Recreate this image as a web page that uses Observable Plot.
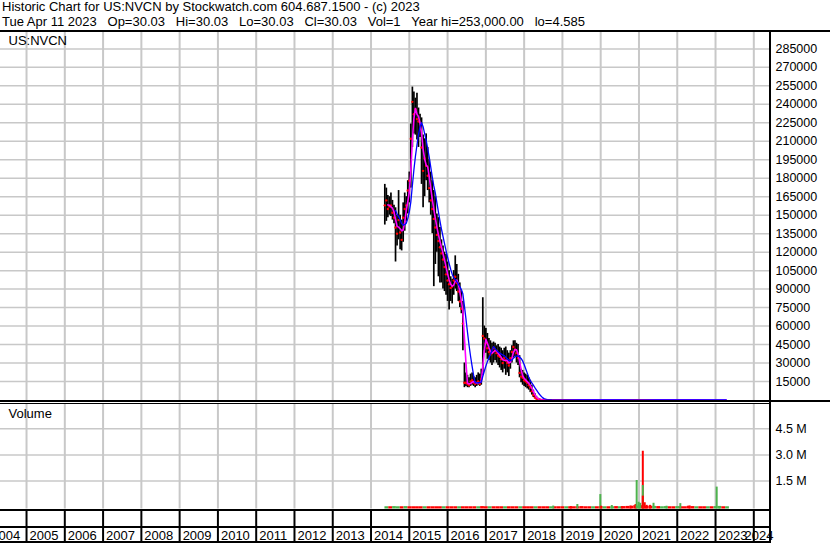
<!DOCTYPE html>
<html><head><meta charset="utf-8">
<script src="https://cdn.jsdelivr.net/npm/d3@7"></script>
<script src="https://cdn.jsdelivr.net/npm/@observablehq/plot@0.6"></script>
<style>
body{margin:0;background:#fff;}
#wrap{position:relative;width:830px;height:543px;overflow:hidden;background:#fff;font-family:"Liberation Sans",Arial,sans-serif;}
.hdr{position:absolute;left:2px;font-size:13px;line-height:15px;white-space:pre;color:#000;}
.ln{position:absolute;background:#000;}
</style></head><body>
<div id="wrap"></div>
<script>
// ---- text ----
const titleLine = "Historic Chart for US:NVCN by Stockwatch.com 604.687.1500 - (c) 2023";
const quoteLine = "Tue Apr 11 2023   Op=30.03   Hi=30.03   Lo=30.03   Cl=30.03   Vol=1   Year hi=253,000.00   lo=4.585";
const symbolLabel = "US:NVCN";
const volumeLabel = "Volume";

// ---- tick values ----
const yearTicks = [2004,2005,2006,2007,2008,2009,2010,2011,2012,2013,2014,2015,2016,2017,2018,2019,2020,2021,2022,2023,2024];
const priceTicksK = [15,30,45,60,75,90,105,120,135,150,165,180,195,210,225,240,255,270,285]; // thousands
const volTicksM = [1.5,3.0,4.5]; // millions

// ---- price bars: [decimal year, high, low, close] in thousands ----
const priceRows = [
[2014.36,175,142,158],[2014.40,172,145,162],[2014.44,166,148,155],[2014.48,165,150,157],
[2014.52,168,149,158],[2014.56,162,146,152],[2014.60,158,143,148],[2014.64,156,112,140],
[2014.68,150,125,135],[2014.72,170,130,146],[2014.76,150,122,136],[2014.80,146,121,130],
[2014.84,160,128,148],[2014.88,168,137,155],[2014.92,165,145,158],[2014.96,178,151,170],
[2015.00,185,160,178],[2015.04,224,172,212],[2015.08,254,205,242],[2015.12,250,216,232],
[2015.16,245,215,236],[2015.20,249,211,228],[2015.24,237,205,226],[2015.28,232,213,220],
[2015.32,229,175,205],[2015.36,215,156,186],[2015.40,212,165,196],[2015.44,216,178,190],
[2015.48,205,170,182],[2015.52,195,160,172],[2015.56,185,150,162],[2015.60,178,135,155],
[2015.64,170,92,147],[2015.68,165,110,140],[2015.72,151,120,134],[2015.76,148,100,129],
[2015.80,140,95,124],[2015.84,130,95,119],[2015.88,125,90,114],[2015.92,120,88,108],
[2015.96,118,85,102],[2016.00,112,80,97],[2016.04,105,73,94],[2016.08,100,80,91],
[2016.12,98,78,92],[2016.16,105,85,97],[2016.20,117,90,100],[2016.24,110,88,95],
[2016.28,102,80,88],[2016.32,95,75,80],[2016.36,88,70,74],[2016.40,80,40,62],
[2016.44,30,10,14],[2016.48,22,11,14],[2016.52,20,10,13],[2016.56,18,10,12],
[2016.60,21,11,15],[2016.64,22,12,16],[2016.68,19,11,14],[2016.72,18,10,13],
[2016.76,20,11,14],[2016.80,22,12,15],[2016.84,21,11,13],[2016.88,25,12,17],
[2016.92,83,20,52],[2016.96,60,40,50],[2017.00,58,38,46],[2017.04,54,33,42],
[2017.08,50,32,39],[2017.12,48,30,37],[2017.16,46,28,38],[2017.20,47,30,42],
[2017.24,46,32,40],[2017.28,44,30,38],[2017.32,45,28,36],[2017.36,43,26,35],
[2017.40,42,24,33],[2017.44,40,22,30],[2017.48,42,25,34],[2017.52,43,20,32],
[2017.56,40,22,30],[2017.60,38,19,28],[2017.64,40,25,34],[2017.68,44,30,39],
[2017.72,48,34,43],[2017.76,48,35,41],[2017.80,46,30,38],[2017.84,45,28,34],
[2017.88,36,18,22],[2017.92,25,14,19],[2017.96,24,12,18],[2018.00,22,11,16],
[2018.04,21,10,15],[2018.08,20,9,14],[2018.12,18,8,12],[2018.16,16,6,10],
[2018.20,12,4,7],[2018.24,8,2,4],[2018.28,5,1,2],[2018.32,3,0.5,1],
[2018.36,1.5,0.3,0.6],[2018.40,0.8,0.2,0.4]
];
// ---- flat tail after the collapse: [decimal year, close] in thousands ----
const tailRows = [
[2018.44,0.3],[2018.48,0.25],[2018.52,0.2],[2018.56,0.2],[2018.60,0.15],[2018.64,0.15],
[2018.68,0.12],[2018.72,0.1],[2019.0,0.1],[2019.5,0.08],[2020.0,0.06],[2020.5,0.05],
[2021.0,0.1],[2021.5,0.07],[2022.0,0.05],[2022.5,0.04],[2023.0,0.03],[2023.28,0.03]
];

// ---- volume: [decimal year, volume (millions), up(1)/down(0)] ----
const volBaseRows = [
[2014.4,.02,1],[2014.5,.02,0],[2014.6,.03,1],[2014.7,.02,1],[2014.8,.02,0],[2014.9,.03,1],
[2015.0,.02,0],[2015.1,.02,0],[2015.2,.02,0],[2015.3,.02,0],[2015.4,.02,1],[2015.5,.02,0],
[2015.6,.02,0],[2015.7,.02,0],[2015.8,.02,0],[2015.9,.02,1],[2016.0,.02,0],[2016.1,.02,0],
[2016.2,.02,0],[2016.3,.02,1],[2016.4,.02,0],[2016.5,.02,0],[2016.6,.02,0],[2016.7,.02,0],
[2016.8,.02,1],[2016.9,.03,0],[2017.0,.02,0],[2017.1,.02,1],[2017.2,.02,0],[2017.3,.02,0],
[2017.4,.02,0],[2017.5,.02,1],[2017.6,.02,0],[2017.7,.02,0],[2017.8,.02,0],[2017.9,.02,1],
[2018.0,.02,0],[2018.1,.02,0],[2018.2,.02,0],[2018.3,.02,1],[2018.4,.02,0],[2018.5,.02,0],
[2018.6,.02,0],[2018.7,.02,1],[2018.8,.02,0],[2018.9,.02,0],[2019.0,.02,0],[2019.1,.02,1],
[2019.2,.02,0],[2019.3,.02,0],[2019.4,.02,0],[2019.5,.03,0],[2019.6,.02,0],[2019.7,.02,0],
[2019.8,.02,1],[2019.9,.02,0],[2020.0,.03,0],[2020.1,.02,1],[2020.2,.02,0],[2020.3,.02,1],
[2020.4,.03,0],[2020.5,.02,1],[2020.6,.03,0],[2020.7,.04,0],[2020.8,.05,0],[2020.9,.08,0],
[2021.0,.06,1],[2021.1,.08,0],[2021.2,.05,0],[2021.3,.05,0],[2021.4,.04,1],[2021.5,.03,0],
[2021.6,.02,1],[2021.7,.03,1],[2021.8,.02,0],[2021.9,.02,0],[2022.0,.03,1],[2022.1,.02,0],
[2022.2,.02,0],[2022.3,.05,0],[2022.4,.03,0],[2022.5,.02,1],[2022.6,.02,0],[2022.7,.02,0],
[2022.8,.02,1],[2022.9,.02,0],[2023.0,.03,1],[2023.1,.04,1],[2023.2,.02,0],[2023.3,.02,1]
];
const volSpikeRows = [
[2018.76,0.06,1],[2019.22,0.03,0],[2019.39,0.15,1],[2019.99,0.72,1],[2020.01,0.05,0],
[2020.29,0.09,1],[2020.55,0.03,0],[2020.78,0.06,0],[2020.91,0.15,0],[2020.94,1.53,1],
[2020.99,0.28,1],[2021.03,0.22,1],[2021.10,3.21,0],[2021.10,1.24,1],[2021.10,0.63,0],
[2021.15,0.25,0],[2021.20,0.10,0],[2021.29,0.10,0],[2021.38,0.22,1],[2021.72,0.05,1],
[2022.08,0.20,1],[2022.32,0.06,0],[2023.03,1.15,1],[2023.10,0.03,1]
];

// ---- build tables ----
const bars = priceRows.map(([t,h,l,c]) => ({t,h,l,c}));
const tail = tailRows.map(([t,c]) => ({t,c}));
const closes = bars.map(d => ({t:d.t, c:d.c})).concat(tail);
const tailLine = [{t: bars[bars.length-1].t, c: bars[bars.length-1].c}].concat(tail);
const volBase = volBaseRows.map(([t,v,up]) => ({t,v,up}));
const volSpikes = volSpikeRows.map(([t,v,up]) => ({t,v,up}));

const GREEN = "#4db34d", RED = "#ff0000", GRID = "#c8c8c8";
const FONT = "Liberation Sans, Arial, sans-serif";
const xDomain = [2004.32, 2024.436];
const wrap = document.getElementById("wrap");

function place(el, top){ el.style.position="absolute"; el.style.left="0px"; el.style.top=top+"px"; wrap.appendChild(el); }
function line(l,t,w,h){ const d=document.createElement("div"); d.className="ln"; Object.assign(d.style,{left:l+"px",top:t+"px",width:w+"px",height:h+"px"}); wrap.appendChild(d); }

// header
const h1 = document.createElement("div"); h1.className="hdr"; h1.style.top="-1px"; h1.textContent=titleLine; wrap.appendChild(h1);
const h2 = document.createElement("div"); h2.className="hdr"; h2.style.top="14px"; h2.textContent=quoteLine; wrap.appendChild(h2);

// price panel
const pricePlot = Plot.plot({
  width: 830, height: 372, marginLeft: 0, marginRight: 60, marginTop: 1, marginBottom: 2,
  style: {fontFamily: FONT, fontSize: "12.5px", background: "#fff", color: "#000"},
  x: {domain: xDomain, axis: null},
  y: {domain: [-1.23, 298.3], axis: null},
  marks: [
    Plot.ruleY(priceTicksK, {stroke: GRID, strokeWidth: 1.5}),
    Plot.ruleX(yearTicks, {stroke: GRID, strokeWidth: 2}),
    Plot.axisY(priceTicksK, {anchor: "right", tickSize: 0, tickPadding: 5, tickFormat: d => String(d*1000), label: null}),
    Plot.text([symbolLabel], {text: d => d, frameAnchor: "top-left", dx: 8, dy: 3, fontSize: 13}),
    Plot.ruleX(bars, {x: "t", y1: "l", y2: "h", stroke: "#000", strokeWidth: 1.7}),
    Plot.dot(bars, {x: "t", y: "c", r: 1.2, fill: RED, stroke: null}),
    Plot.lineY(closes, Plot.windowY({k: 3, anchor: "end", strict: true}, {x: "t", y: "c", stroke: "#ff00ff", strokeWidth: 1.6})),
    Plot.lineY(closes, Plot.windowY({k: 8, anchor: "end", strict: true}, {x: "t", y: "c", stroke: "#0000ff", strokeWidth: 1.3})),
    Plot.line(tailLine, {x: "t", y: "c", stroke: RED, strokeWidth: 1.2, dy: 0.6})
  ]
});
place(pricePlot, 31);

// volume panel
const volPlot = Plot.plot({
  width: 830, height: 107, marginLeft: 0, marginRight: 60, marginTop: 0, marginBottom: 1.5,
  style: {fontFamily: FONT, fontSize: "12.5px", background: "#fff", color: "#000"},
  x: {domain: xDomain, axis: null},
  y: {domain: [-0.109, 5.954], axis: null},
  color: {type: "identity"},
  marks: [
    Plot.ruleY(volTicksM, {stroke: GRID, strokeWidth: 1.5}),
    Plot.ruleX(yearTicks, {stroke: GRID, strokeWidth: 2}),
    Plot.axisY(volTicksM, {anchor: "right", tickSize: 0, tickPadding: 5, tickFormat: d => d.toFixed(1) + " M", label: null}),
    Plot.text([volumeLabel], {text: d => d, frameAnchor: "top-left", dx: 8, dy: 5, fontSize: 13}),
    Plot.ruleX(volBase, {x: "t", y1: -0.109, y2: "v", stroke: d => d.up ? GREEN : RED, strokeWidth: 3.8}),
    Plot.ruleX(volSpikes, {x: "t", y1: -0.109, y2: "v", stroke: d => d.up ? GREEN : RED, strokeWidth: 2})
  ]
});
place(volPlot, 403);

// year strip
const lastYear = yearTicks[yearTicks.length-1];
const yearPlot = Plot.plot({
  width: 830, height: 33, marginLeft: 0, marginRight: 60, marginTop: 0, marginBottom: 0,
  style: {fontFamily: FONT, fontSize: "13px", background: "#fff", color: "#000"},
  x: {domain: xDomain, axis: null},
  marks: [
    Plot.ruleX(yearTicks, {stroke: "#000", strokeWidth: 2}),
    Plot.text(yearTicks.slice(0, -1), {x: d => d, text: d => String(d), textAnchor: "start", frameAnchor: "top", lineAnchor: "top", dx: 3, dy: 20}),
    Plot.text([lastYear], {x: xDomain[1], text: d => String(d), textAnchor: "end", frameAnchor: "top", lineAnchor: "top", dx: 3, dy: 20})
  ]
});
place(yearPlot, 510);

// frame lines
line(0, 30, 830, 2);
line(0, 400, 830, 2);
line(0, 403, 770, 1);
line(0, 509, 770, 2);
line(0, 526, 770, 2);
line(0, 541, 770, 2);
line(769, 31, 2, 512);
</script>
</body></html>
